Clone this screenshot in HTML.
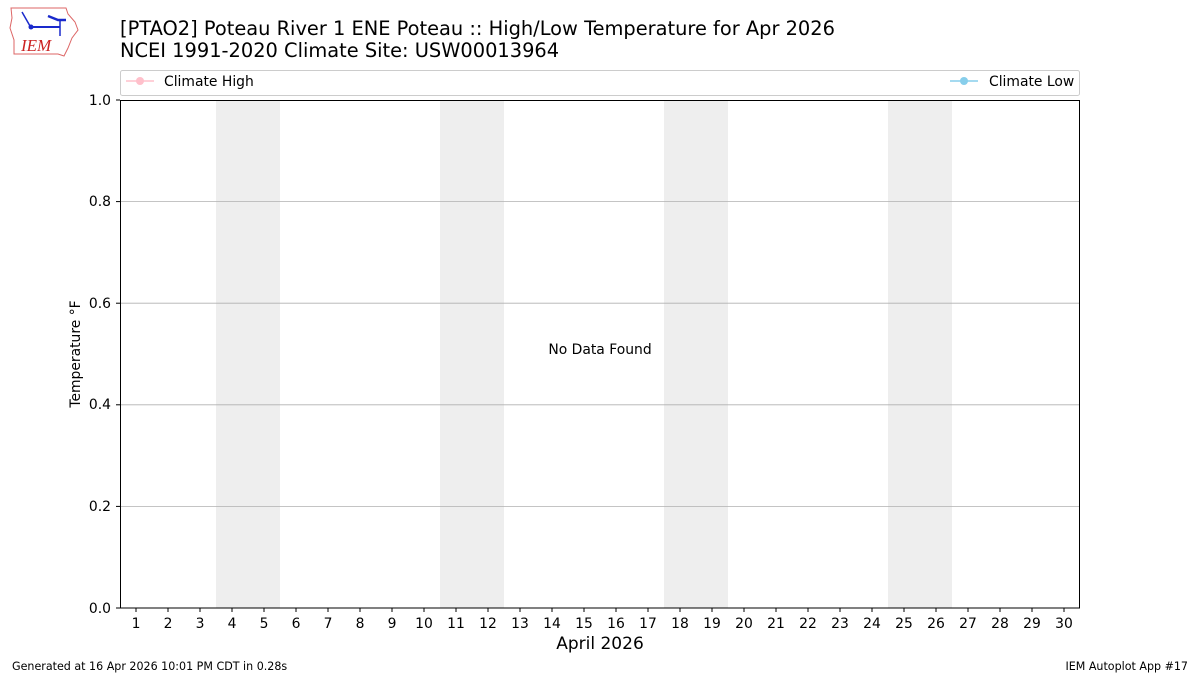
<!DOCTYPE html>
<html><head><meta charset="utf-8"><style>body{margin:0;background:#fff}svg{display:block}text{font-family:"DejaVu Sans","Liberation Sans",sans-serif}</style></head><body>
<svg width="1200" height="675" xmlns="http://www.w3.org/2000/svg">
<g>
<path d="M11,8 L66,8 L68,14 L75,22 L78,30 L72,38 L68,48 L64,56 L58,54 L14,54 L14,40 L10,28 L12,18 Z" fill="none" stroke="#d66" stroke-width="1"/>
<line x1="30" y1="27" x2="60" y2="27" stroke="#1a2acc" stroke-width="2"/>
<circle cx="31" cy="27" r="2.5" fill="#1a2acc"/>
<line x1="22" y1="12" x2="30" y2="26" stroke="#1a2acc" stroke-width="1.5"/>
<path d="M48,16 L58,20 L66,20" stroke="#1a2acc" stroke-width="2.5" fill="none"/>
<line x1="60" y1="20" x2="60" y2="36" stroke="#1a2acc" stroke-width="1.5"/>
<text x="21" y="51" font-style="italic" font-size="17" fill="#cc2222" style="font-family:'Liberation Serif',serif">IEM</text>
</g>
<text x="120" y="35" font-size="19.4">[PTAO2] Poteau River 1 ENE Poteau :: High/Low Temperature for Apr 2026</text>
<text x="120" y="57" font-size="19.4">NCEI 1991-2020 Climate Site: USW00013964</text>
<rect x="120.5" y="70.5" width="959" height="25" rx="2" fill="#fff" stroke="#ccc"/>
<line x1="126" y1="81" x2="154" y2="81" stroke="pink" stroke-width="1.5"/><circle cx="140" cy="81" r="4" fill="pink"/>
<text x="164" y="86" font-size="13.9">Climate High</text>
<line x1="950" y1="81" x2="978" y2="81" stroke="skyblue" stroke-width="1.5"/><circle cx="964" cy="81" r="4" fill="skyblue"/>
<text x="989" y="86" font-size="13.9">Climate Low</text>
<g fill="#eee">
<rect x="216" y="100" width="64" height="508"/><rect x="440" y="100" width="64" height="508"/>
<rect x="664" y="100" width="64" height="508"/><rect x="888" y="100" width="64" height="508"/>
</g>
<g stroke="#b0b0b0" stroke-width="0.8">
<line x1="120" x2="1080" y1="506.4" y2="506.4"/><line x1="120" x2="1080" y1="404.8" y2="404.8"/>
<line x1="120" x2="1080" y1="303.2" y2="303.2"/><line x1="120" x2="1080" y1="201.6" y2="201.6"/>
</g>
<rect x="120.5" y="100.5" width="959" height="507.5" fill="none" stroke="#000"/>
<g font-size="13.9" text-anchor="end">
<text x="111" y="613">0.0</text><text x="111" y="511">0.2</text><text x="111" y="409">0.4</text>
<text x="111" y="308">0.6</text><text x="111" y="206">0.8</text><text x="111" y="105">1.0</text>
</g>
<g stroke="#000"><line x1="116" x2="120" y1="608" y2="608"/><line x1="116" x2="120" y1="506.4" y2="506.4"/><line x1="116" x2="120" y1="404.8" y2="404.8"/><line x1="116" x2="120" y1="303.2" y2="303.2"/><line x1="116" x2="120" y1="201.6" y2="201.6"/><line x1="116" x2="120" y1="100" y2="100"/></g>
<g stroke="#000">
<line x1="136" x2="136" y1="608" y2="612"/><line x1="168" x2="168" y1="608" y2="612"/><line x1="200" x2="200" y1="608" y2="612"/><line x1="232" x2="232" y1="608" y2="612"/><line x1="264" x2="264" y1="608" y2="612"/><line x1="296" x2="296" y1="608" y2="612"/><line x1="328" x2="328" y1="608" y2="612"/><line x1="360" x2="360" y1="608" y2="612"/><line x1="392" x2="392" y1="608" y2="612"/><line x1="424" x2="424" y1="608" y2="612"/><line x1="456" x2="456" y1="608" y2="612"/><line x1="488" x2="488" y1="608" y2="612"/><line x1="520" x2="520" y1="608" y2="612"/><line x1="552" x2="552" y1="608" y2="612"/><line x1="584" x2="584" y1="608" y2="612"/><line x1="616" x2="616" y1="608" y2="612"/><line x1="648" x2="648" y1="608" y2="612"/><line x1="680" x2="680" y1="608" y2="612"/><line x1="712" x2="712" y1="608" y2="612"/><line x1="744" x2="744" y1="608" y2="612"/><line x1="776" x2="776" y1="608" y2="612"/><line x1="808" x2="808" y1="608" y2="612"/><line x1="840" x2="840" y1="608" y2="612"/><line x1="872" x2="872" y1="608" y2="612"/><line x1="904" x2="904" y1="608" y2="612"/><line x1="936" x2="936" y1="608" y2="612"/><line x1="968" x2="968" y1="608" y2="612"/><line x1="1000" x2="1000" y1="608" y2="612"/><line x1="1032" x2="1032" y1="608" y2="612"/><line x1="1064" x2="1064" y1="608" y2="612"/>
</g>
<g font-size="13.9" text-anchor="middle">
<text x="136" y="628">1</text><text x="168" y="628">2</text><text x="200" y="628">3</text><text x="232" y="628">4</text><text x="264" y="628">5</text><text x="296" y="628">6</text><text x="328" y="628">7</text><text x="360" y="628">8</text><text x="392" y="628">9</text><text x="424" y="628">10</text><text x="456" y="628">11</text><text x="488" y="628">12</text><text x="520" y="628">13</text><text x="552" y="628">14</text><text x="584" y="628">15</text><text x="616" y="628">16</text><text x="648" y="628">17</text><text x="680" y="628">18</text><text x="712" y="628">19</text><text x="744" y="628">20</text><text x="776" y="628">21</text><text x="808" y="628">22</text><text x="840" y="628">23</text><text x="872" y="628">24</text><text x="904" y="628">25</text><text x="936" y="628">26</text><text x="968" y="628">27</text><text x="1000" y="628">28</text><text x="1032" y="628">29</text><text x="1064" y="628">30</text>
</g>
<text transform="translate(80,354) rotate(-90)" font-size="13.9" text-anchor="middle">Temperature °F</text>
<text x="600" y="649" font-size="17" text-anchor="middle">April 2026</text>
<text x="600" y="354" font-size="13.9" text-anchor="middle">No Data Found</text>
<text x="12" y="670" font-size="11.1">Generated at 16 Apr 2026 10:01 PM CDT in 0.28s</text>
<text x="1188" y="670" font-size="11.1" text-anchor="end">IEM Autoplot App #17</text>
</svg>
</body></html>
